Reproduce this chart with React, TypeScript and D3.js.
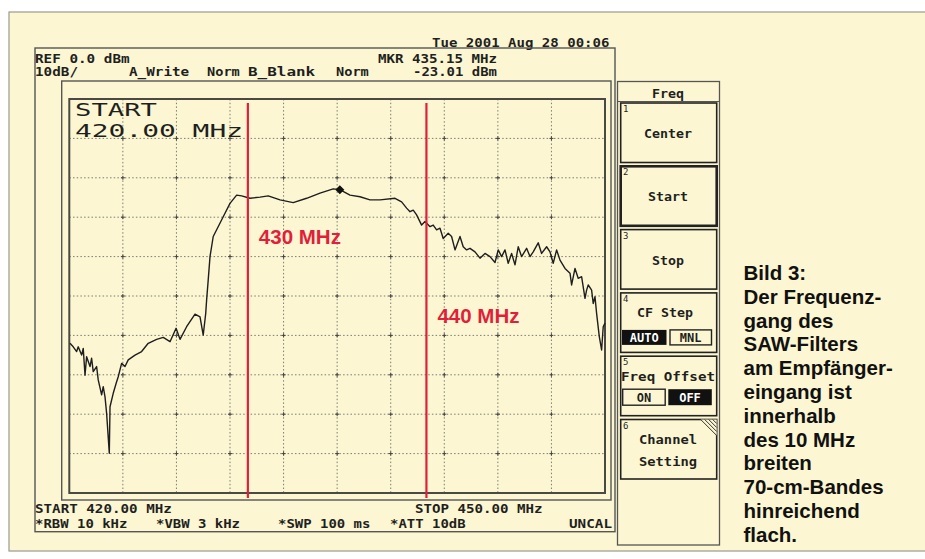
import React from "react";
import * as d3 from "d3";

// ---- data ----
const FREQ_MHZ = [420.04,420.22,420.41,420.5,420.69,420.78,420.88,420.97,421.16,421.25,421.34,421.53,421.62,421.81,421.9,422.0,422.09,422.24,422.28,422.46,422.62,422.74,422.93,423.12,423.3,423.68,424.05,424.42,424.89,425.26,425.64,425.98,426.2,426.57,427.04,427.32,427.5,427.64,427.69,427.78,427.88,428.06,428.62,429.0,429.37,429.65,430.12,430.68,431.14,431.8,432.54,433.29,434.04,434.78,435.15,435.72,436.28,436.84,437.4,438.24,438.61,438.89,439.08,439.26,439.45,439.73,439.92,440.2,440.38,440.57,440.76,440.94,441.22,441.41,441.6,441.88,442.06,442.25,442.44,442.72,443.0,443.28,443.56,443.84,444.02,444.21,444.4,444.58,444.77,444.96,445.14,445.33,445.61,445.8,445.98,446.26,446.45,446.73,446.92,447.1,447.29,447.48,447.76,448.04,448.13,448.32,448.5,448.69,448.88,448.97,449.06,449.25,449.34,449.44,449.53,449.68,449.81,449.9,450.0];
const LEVEL_DBM = [-62.0,-62.9,-64.1,-62.9,-65.0,-63.3,-70.1,-65.4,-67.9,-65.8,-69.2,-67.9,-71.3,-75.1,-73.0,-75.6,-79.8,-89.9,-78.1,-74.7,-72.2,-70.5,-67.1,-67.9,-66.2,-65.0,-64.1,-62.0,-61.0,-60.5,-61.6,-58.2,-61.0,-57.8,-54.6,-55.3,-59.9,-54.4,-51.0,-45.9,-40.0,-34.9,-29.9,-26.5,-24.4,-24.6,-25.2,-24.9,-24.6,-25.6,-26.3,-25.2,-23.9,-22.8,-23.01,-24.4,-24.8,-25.6,-25.6,-25.2,-26.1,-27.7,-28.6,-28.2,-29.4,-32.0,-31.1,-32.4,-32.0,-33.2,-32.8,-35.4,-34.1,-34.9,-38.3,-34.9,-37.5,-38.3,-37.9,-38.8,-40.4,-39.2,-40.0,-41.5,-38.3,-40.0,-38.3,-41.7,-39.2,-42.1,-37.5,-40.0,-37.9,-40.0,-38.8,-36.5,-39.2,-37.5,-38.8,-41.7,-38.3,-40.9,-43.0,-44.2,-47.2,-43.0,-45.5,-45.1,-50.6,-48.5,-47.2,-48.5,-51.9,-50.2,-54.4,-60.3,-63.7,-57.8,-56.9];
const START_MHZ = 420;
const STOP_MHZ = 450;
const REF_DBM = 0;
const DB_PER_DIV = 10;
const DIVISIONS = 10;
const MARKER_MHZ = 435.15;
const MARKER_DBM = -23.01;
const BAND_EDGES_MHZ = [430, 440];
const BAND_LABELS = ["430 MHz", "440 MHz"];
const SOFTKEYS = ["Center", "Start", "Stop", "CF Step", "Freq Offset", "Channel|Setting"];
const CAPTION = ["Bild 3:", "Der Frequenz-", "gang des", "SAW-Filters", "am Empfänger-", "eingang ist", "innerhalb", "des 10 MHz", "breiten", "70-cm-Bandes", "hinreichend", "flach."];

const CREAM = "#fcf7d2";
const INK = "#1f1f1f";
const RED = "#e21f3a";
const MONO = "'DejaVu Sans Mono', 'Liberation Mono', monospace";
const SANS = "'Liberation Sans', Arial, sans-serif";

export default function App() {
  const plot = { l: 69.3, r: 605, t: 99, b: 493 };
  const x = d3.scaleLinear().domain([START_MHZ, STOP_MHZ]).range([plot.l, plot.r]);
  const y = d3.scaleLinear().domain([REF_DBM, REF_DBM - DB_PER_DIV * DIVISIONS]).range([plot.t, plot.b]);
  const xTicks = d3.range(0, DIVISIONS + 1).map((i) => START_MHZ + (i * (STOP_MHZ - START_MHZ)) / DIVISIONS);
  const yTicks = d3.range(0, DIVISIONS + 1).map((i) => REF_DBM - i * DB_PER_DIV);
  const pts = FREQ_MHZ.map((f, i) => [f, LEVEL_DBM[i]] as [number, number]);
  const line = d3.line<[number, number]>().x((d) => x(d[0])).y((d) => y(d[1]))(pts) || "";
  const mx = x(MARKER_MHZ);
  const my = y(MARKER_DBM);

  const mono = (s: string, xx: number, yy: number, cw = 8.5, extra: any = {}) => (
    <text x={xx} y={yy} fontFamily={MONO} fontSize={12.5} fontWeight="bold" fill={INK}
      textLength={s.length * cw} lengthAdjust="spacingAndGlyphs" {...extra}>{s}</text>
  );

  const keyTop = (i: number) => 103 + i * 63.3;
  const keyH = 59.5;
  const keyText = (s: string, cx: number, yy: number, w: number) => (
    <text x={cx - w / 2} y={yy} fontFamily={MONO} fontSize={13} fontWeight="bold" fill={INK}
      textLength={w} lengthAdjust="spacingAndGlyphs">{s}</text>
  );

  return (
    <svg width={925} height={559} style={{ position: "absolute", left: 0, top: 0 }}>
      <rect x={0} y={0} width={925} height={559} fill="#ffffff" />
      <rect x={9} y={12} width={930} height={539} fill={CREAM} stroke="#9a9a90" strokeWidth={1.2} />

      {/* header text */}
      {mono("Tue 2001 Aug 28 00:06", 432, 46.5, 8.45)}
      <rect x={35} y={48} width={580} height={483.7} fill="none" stroke="#555" strokeWidth={1.4} />
      {mono("REF 0.0 dBm", 35, 62.5, 8.6)}
      {mono("MKR 435.15 MHz", 378, 62.5, 8.5)}
      {mono("10dB/", 35, 76, 8.6)}
      {mono("A_Write", 129, 76, 8.6)}
      {mono("Norm", 207, 76, 8.2)}
      {mono("B_Blank", 248, 76, 9.6)}
      {mono("Norm", 336, 76, 8.2)}
      {mono("-23.01 dBm", 413, 76, 8.4)}

      <rect x={61.7} y={81} width={549.3} height={419} fill="none" stroke="#555" strokeWidth={1.4} />

      {/* grid */}
      <g stroke="#6d6d66" strokeWidth={0.9} strokeDasharray="1.5 2.2">
        {xTicks.slice(1, -1).map((t) => (
          <line key={"gx" + t} x1={x(t)} x2={x(t)} y1={plot.t} y2={plot.b} />
        ))}
        {yTicks.slice(1, -1).map((t) => (
          <line key={"gy" + t} x1={plot.l} x2={plot.r} y1={y(t)} y2={y(t)} />
        ))}
      </g>
      <g stroke="#444" strokeWidth={1}>
        {xTicks.slice(1, -1).map((tx) =>
          yTicks.slice(1, -1).map((ty) => (
            <path key={"c" + tx + ty} d={`M${x(tx) - 2},${y(ty)}H${x(tx) + 2}M${x(tx)},${y(ty) - 2}V${y(ty) + 2}`} />
          ))
        )}
      </g>
      <rect x={plot.l} y={plot.t} width={plot.r - plot.l} height={plot.b - plot.t} fill="none" stroke="#4a4a44" strokeWidth={2} />

      {/* start label inside plot */}
      <text x={75} y={115.5} fontFamily={MONO} fontSize={18.5} fill={INK} textLength={82} lengthAdjust="spacingAndGlyphs">START</text>
      <text x={75} y={136.5} fontFamily={MONO} fontSize={18.5} fill={INK} textLength={168} lengthAdjust="spacingAndGlyphs">420.00 MHz</text>

      {/* trace */}
      <path d={line} fill="none" stroke="#1e1e1e" strokeWidth={1.4} strokeLinejoin="round" />
      <path d={`M${mx},${my - 4.5}L${mx + 4.5},${my}L${mx},${my + 4.5}L${mx - 4.5},${my}Z`} fill="#111" />

      {/* band edges */}
      {BAND_EDGES_MHZ.map((f, i) => (
        <g key={"b" + f}>
          <line x1={x(f)} x2={x(f)} y1={103} y2={498} stroke={RED} strokeWidth={2.2} />
          <text x={x(f) + 11} y={i === 0 ? 244 : 323} fontFamily={SANS} fontWeight="bold" fontSize={20.5} fill={RED}>
            {BAND_LABELS[i]}
          </text>
        </g>
      ))}

      {/* footer text */}
      {mono("START 420.00 MHz", 35, 513, 8.55)}
      {mono("STOP 450.00 MHz", 415, 513, 8.5)}
      {mono("*RBW 10 kHz", 35, 528, 8.4)}
      {mono("*VBW 3 kHz", 156, 528, 8.4)}
      {mono("*SWP 100 ms", 278, 528, 8.4)}
      {mono("*ATT 10dB", 390, 528, 8.4)}
      {mono("UNCAL", 569, 528, 8.6)}

      {/* softkey panel */}
      <rect x={617.5} y={81.5} width={102} height={463.5} fill={CREAM} stroke="#555" strokeWidth={1.3} />
      <line x1={617.5} x2={719.5} y1={101.5} y2={101.5} stroke="#555" strokeWidth={1.2} />
      {keyText("Freq", 668, 98, 32)}
      {SOFTKEYS.map((k, i) => {
        const t = keyTop(i);
        const lines = k.split("|");
        const sel = i === 1;
        return (
          <g key={k}>
            <rect x={620.7} y={t} width={96} height={keyH} fill={CREAM} stroke="#222" strokeWidth={sel ? 2.6 : 1.6} />
            <text x={623} y={t + 9} fontFamily={MONO} fontSize={9} fill={INK}>{i + 1}</text>
            {i < 3 && keyText(lines[0], 668, t + 35, lines[0].length * 8)}
            {i === 3 && (
              <g>
                {keyText(lines[0], 665, t + 24.5, 56)}
                <rect x={622} y={t + 37} width={44.5} height={15} fill="#111" />
                <text x={644.2} y={t + 49} textAnchor="middle" fontFamily={MONO} fontSize={12} fill="#fff" fontWeight="bold">AUTO</text>
                <rect x={670} y={t + 37} width={41.5} height={15} fill={CREAM} stroke="#222" strokeWidth={1.4} />
                <text x={690.7} y={t + 49} textAnchor="middle" fontFamily={MONO} fontSize={12} fill={INK} fontWeight="bold">MNL</text>
              </g>
            )}
            {i === 4 && (
              <g>
                {keyText(lines[0], 668, t + 24.5, 94)}
                <rect x={622.7} y={t + 33} width={42.5} height={16} fill={CREAM} stroke="#222" strokeWidth={1.4} />
                <text x={644} y={t + 45.5} textAnchor="middle" fontFamily={MONO} fontSize={12} fill={INK} fontWeight="bold">ON</text>
                <rect x={668.3} y={t + 33} width={43.5} height={16} fill="#111" />
                <text x={690} y={t + 45.5} textAnchor="middle" fontFamily={MONO} fontSize={12} fill="#fff" fontWeight="bold">OFF</text>
              </g>
            )}
            {i === 5 && (
              <g>
                {keyText(lines[0], 668, t + 24, 58)}
                {keyText(lines[1], 668, t + 46, 58)}
                <path d={`M${716.7 - 16},${t}L${716.7},${t + 16}L${716.7},${t}Z`} fill={CREAM} />
                <g stroke="#333" strokeWidth={1}>
                  {[4, 8, 12, 16].map((o) => (
                    <line key={o} x1={716.7 - o} y1={t} x2={716.7} y2={t + o} />
                  ))}
                </g>
              </g>
            )}
          </g>
        );
      })}

      {/* caption */}
      {CAPTION.map((c, i) => (
        <text key={c} x={743.5} y={280 + i * 23.8} fontFamily={SANS} fontWeight="bold" fontSize={20.5} fill="#111">{c}</text>
      ))}
    </svg>
  );
}
